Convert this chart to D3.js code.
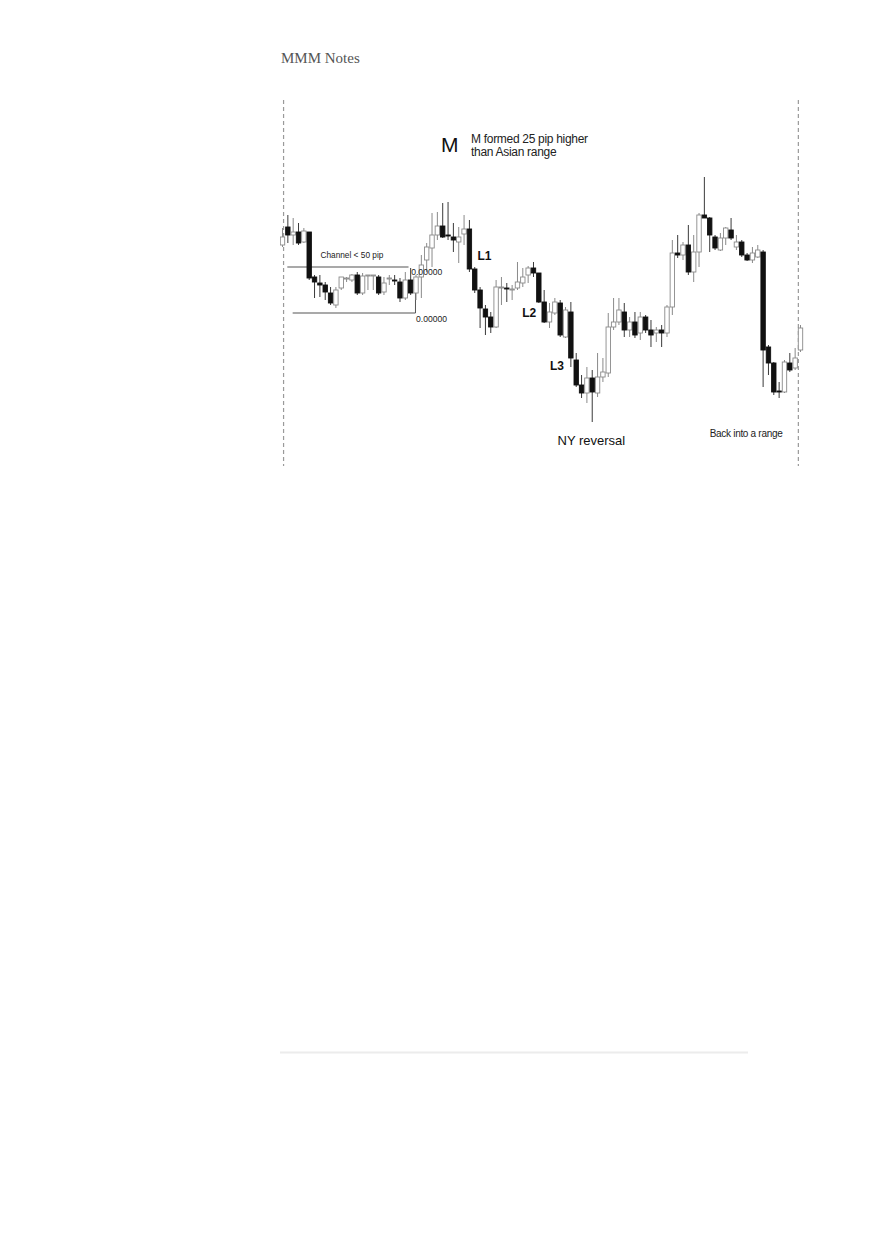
<!DOCTYPE html>
<html>
<head>
<meta charset="utf-8">
<script src="https://cdn.jsdelivr.net/npm/d3@7"></script>
<style>
  html, body { margin: 0; padding: 0; background: #fff; }
  svg { display: block; }
</style>
</head>
<body>
<svg id="chart" width="880" height="1247"></svg>
<script>
// Candle data (price in pips, arbitrary base)
const opens  = [255,273,265,268,258,268,223,217,215,207,195,212,221,220,225,207,224,224,223,208,221,220,218,202,220,207,
                223,240,252,265,274,265,263,258,266,271,231,210,191,183,173,212,212,210,212,217,225,232,227,198,178,187,
                197,163,188,140,115,107,122,107,123,127,173,178,188,170,178,167,183,170,167,170,167,193,247,245,255,228,
                248,285,282,263,250,262,270,253,258,245,240,243,248,153,137,109,108,137,132,150];
const highs  = [272,285,282,277,272,268,225,225,218,213,213,223,223,226,228,227,225,225,225,223,225,225,222,228,232,225,
                245,257,287,288,297,298,277,273,285,280,233,213,195,188,220,223,217,215,238,232,234,238,227,210,197,202,
                200,193,198,147,125,133,130,147,142,187,202,202,197,183,188,188,185,180,173,175,195,260,265,258,275,265,
                287,323,283,265,267,273,282,265,260,247,253,255,250,155,138,118,140,147,152,175];
const lows   = [253,257,255,255,257,220,202,203,200,195,192,210,218,218,205,205,210,210,205,205,215,215,198,200,205,200,
                202,228,233,260,262,260,248,237,255,228,207,172,165,167,172,195,198,200,210,213,217,223,197,177,172,185,
                163,162,133,113,102,97,78,103,118,123,170,175,163,163,162,160,167,153,158,153,163,185,242,240,225,218,
                233,282,248,250,249,255,260,250,243,239,237,242,113,125,105,102,107,128,130,148];
const closes = [263,265,268,257,269,222,218,215,208,197,210,223,222,225,207,224,225,225,207,217,222,219,202,220,207,223,
                235,253,265,274,263,264,260,263,271,231,210,192,183,173,213,213,211,211,218,223,232,227,198,178,188,198,
                165,190,142,115,107,122,108,123,128,173,178,190,170,178,165,183,170,165,170,167,193,247,245,255,228,248,
                285,282,265,252,262,272,262,258,245,240,247,250,150,137,108,108,138,130,142,172];

const channelTop = 233, channelBottom = 187;

const candles = opens.map((o, i) => ({ i, o, h: highs[i], l: lows[i], c: closes[i] }));

const svg = d3.select("#chart");

// Page title
svg.append("text")
  .attr("x", 281).attr("y", 63)
  .attr("font-family", "'Liberation Serif', 'Times New Roman', serif")
  .attr("font-size", 15)
  .attr("fill", "#555")
  .text("MMM Notes");

// scales
const x = d3.scaleBand()
  .domain(d3.range(candles.length))
  .range([279.3, 803.7])
  .padding(0.2);
const cx = i => x(0) + x.bandwidth() / 2 + i * x.step();
const y = d3.scaleLinear().domain([30, 400]).range([470, 100]);

svg.append("defs").append("clipPath").attr("id", "clip")
  .append("rect").attr("x", 280).attr("y", 97).attr("width", 525).attr("height", 372);

const g = svg.append("g").attr("clip-path", "url(#clip)");

// session separators (dashed)
[0.2, 96.6].forEach(v => {
  g.append("line")
    .attr("x1", cx(v)).attr("x2", cx(v))
    .attr("y1", 100).attr("y2", 466)
    .attr("stroke", "#9a9a9a").attr("stroke-width", 1.2)
    .attr("stroke-dasharray", "4,3");
});

// channel lines
g.append("line").attr("x1", cx(0.9)).attr("x2", cx(23.6))
  .attr("y1", y(channelTop)).attr("y2", y(channelTop))
  .attr("stroke", "#555").attr("stroke-width", 1.1);
g.append("line").attr("x1", cx(1.9)).attr("x2", cx(24.9))
  .attr("y1", y(channelBottom)).attr("y2", y(channelBottom))
  .attr("stroke", "#555").attr("stroke-width", 1.1);
g.append("line").attr("x1", cx(24.9)).attr("x2", cx(24.9))
  .attr("y1", y(210)).attr("y2", y(channelBottom))
  .attr("stroke", "#555").attr("stroke-width", 1);

// wicks
g.selectAll("line.wick").data(candles).join("line")
  .attr("class", "wick")
  .attr("x1", d => cx(d.i)).attr("x2", d => cx(d.i))
  .attr("y1", d => y(d.h)).attr("y2", d => y(d.l))
  .attr("stroke", d => d.c >= d.o ? "#8a8a8a" : "#3a3a3a")
  .attr("stroke-width", 1);

// bodies
g.selectAll("rect.body").data(candles).join("rect")
  .attr("class", "body")
  .attr("x", d => cx(d.i) - 2.2)
  .attr("width", 4.4)
  .attr("y", d => y(Math.max(d.o, d.c)))
  .attr("height", d => Math.max(1, Math.abs(y(d.o) - y(d.c))))
  .attr("fill", d => d.c >= d.o ? "#ffffff" : "#111111")
  .attr("stroke", d => d.c >= d.o ? "#8a8a8a" : "#111111")
  .attr("stroke-width", 0.9);

// annotations
const sans = "'Liberation Sans', Arial, sans-serif";
function label(i, p, txt, size, opts = {}) {
  return g.append("text")
    .attr("x", cx(i)).attr("y", y(p))
    .attr("font-family", sans)
    .attr("font-size", size)
    .attr("fill", opts.fill || "#222")
    .attr("font-weight", opts.weight || "normal")
    .attr("letter-spacing", opts.ls || 0)
    .text(txt);
}
label(29.7, 348, "M", 21, { fill: "#111" });
label(35.3, 357, "M formed 25 pip higher", 12, { fill: "#222", ls: -0.3 });
label(35.3, 344, "than Asian range", 12, { fill: "#222", ls: -0.3 });
label(7.1, 242, "Channel < 50 pip", 8.3, { fill: "#222" });
label(24.1, 225, "0.00000", 8.6, { fill: "#222" });
label(25.0, 178, "0.00000", 8.6, { fill: "#222" });
label(36.5, 240, "L1", 12, { fill: "#111", weight: 600 });
label(44.9, 183, "L2", 12, { fill: "#111", weight: 600 });
label(50.1, 130, "L3", 12, { fill: "#111", weight: 600 });
label(51.5, 55, "NY reversal", 13, { fill: "#111" });
label(80.0, 63, "Back into a range", 10, { fill: "#222", ls: -0.3 });

// footer rule
svg.append("line")
  .attr("x1", 280).attr("x2", 748)
  .attr("y1", 1052.5).attr("y2", 1052.5)
  .attr("stroke", "#ececec").attr("stroke-width", 2);
</script>
</body>
</html>
